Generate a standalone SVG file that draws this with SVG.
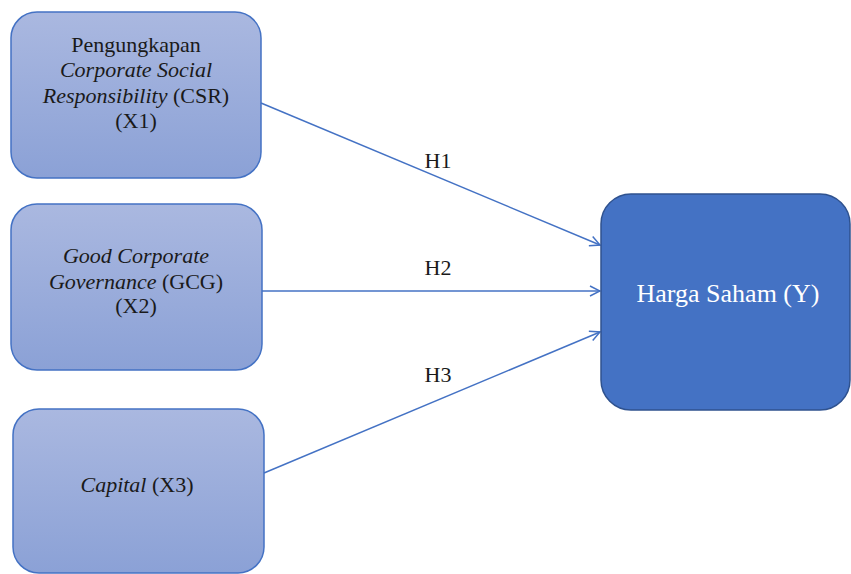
<svg xmlns="http://www.w3.org/2000/svg" width="851" height="574" viewBox="0 0 851 574">
<defs>
<linearGradient id="g" x1="0" y1="0" x2="0" y2="1">
<stop offset="0" stop-color="#AAB8E0"/>
<stop offset="1" stop-color="#8BA1D6"/>
</linearGradient>
<marker id="arr" viewBox="0 0 12 12" refX="11" refY="6" markerWidth="12" markerHeight="12" markerUnits="userSpaceOnUse" orient="auto">
<path d="M1,1 L11,6 L1,11" fill="none" stroke="#4472C4" stroke-width="1.5"/>
</marker>
</defs>
<style>
.n{fill:url(#g);stroke:#4472C4;stroke-width:1.5}
.t{font-family:"Liberation Serif",serif;font-size:22px;fill:#1a1a1a;text-anchor:middle}
.i{font-style:italic}
.c{stroke:#4472C4;stroke-width:1.5;fill:none;marker-end:url(#arr)}
</style>
<rect width="851" height="574" fill="#fff"/>
<g id="connectors">
<line class="c" x1="261" y1="103" x2="600" y2="245"/>
<line class="c" x1="262" y1="291" x2="600" y2="291"/>
<line class="c" x1="264" y1="473" x2="600" y2="332"/>
<text class="t" x="438" y="168">H1</text>
<text class="t" x="438" y="275">H2</text>
<text class="t" x="438" y="382">H3</text>
</g>
<g id="x1">
<rect class="n" x="11" y="12" width="250" height="166" rx="26"/>
<text class="t" x="136" y="52">Pengungkapan</text>
<text class="t i" x="136" y="77">Corporate Social</text>
<text class="t" x="136" y="103"><tspan class="i">Responsibility</tspan> (CSR)</text>
<text class="t" x="136" y="128">(X1)</text>
</g>
<g id="x2">
<rect class="n" x="11" y="204" width="251" height="166" rx="26"/>
<text class="t i" x="136" y="263">Good Corporate</text>
<text class="t" x="136" y="289"><tspan class="i">Governance</tspan> (GCG)</text>
<text class="t" x="136" y="313">(X2)</text>
</g>
<g id="x3">
<rect class="n" x="13" y="409" width="251" height="164" rx="26"/>
<text class="t" x="137" y="492"><tspan class="i">Capital</tspan> (X3)</text>
</g>
<g id="y">
<rect x="601" y="194" width="249" height="216" rx="30" fill="#4472C4" stroke="#2F528F" stroke-width="1.5"/>
<text class="t" x="728" y="302" style="font-size:26px;fill:#fff">Harga Saham (Y)</text>
</g>
</svg>
